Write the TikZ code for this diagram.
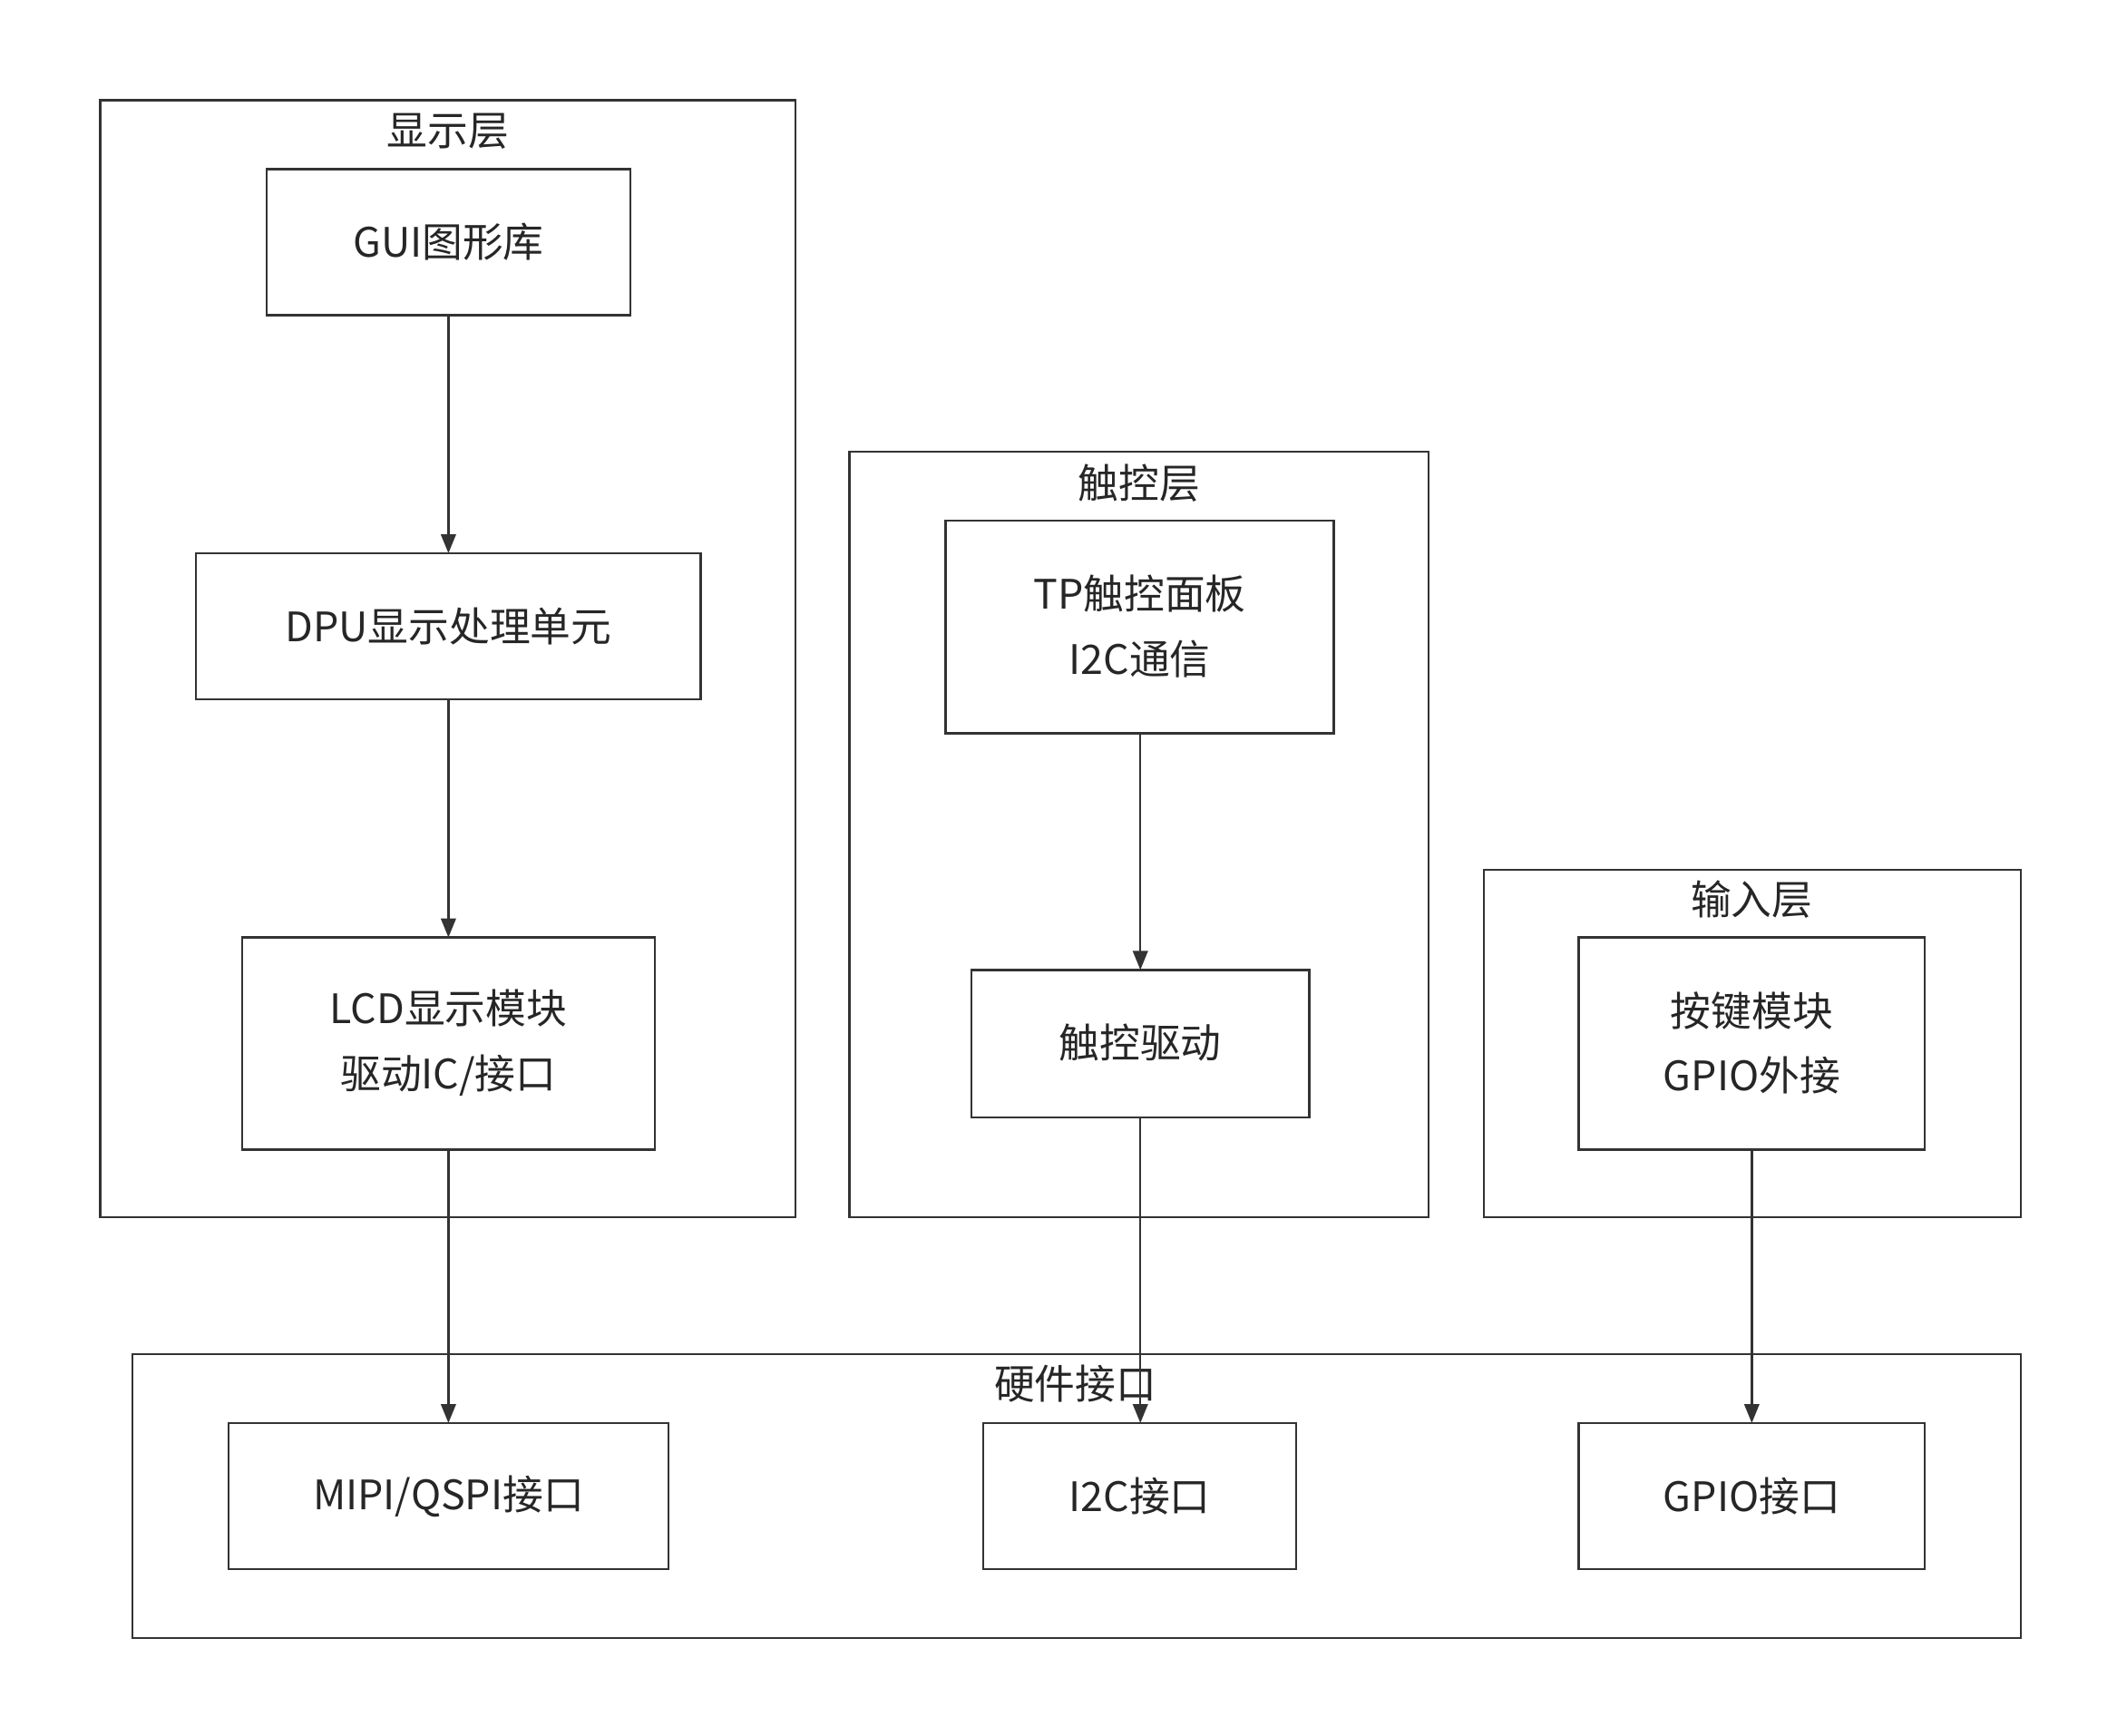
\documentclass[tikz,border=0pt]{standalone}
\usepackage{fontspec}
\setmainfont{Noto Sans CJK SC}
\usetikzlibrary{arrows.meta}
\begin{document}
\begin{tikzpicture}[x=1pt,y=-1pt,
 box/.style={draw=black!80,line width=1.6pt},
 lbl/.style={font=\fontsize{30}{48}\selectfont,align=center,text=black!85},
 arr/.style={draw=black!80,line width=1.6pt,-{Triangle[length=14pt,width=11pt]}}]
\useasboundingbox (0,0) rectangle (1565,1283);
\draw[box] (74,74) rectangle (588,900);
\node[lbl] (t1) at (331,97) {显示层};
\draw[box] (628,334) rectangle (1056,900);
\node[lbl] (t2) at (842,357) {触控层};
\draw[box] (1097,643) rectangle (1494,900);
\node[lbl] (t3) at (1295,665) {输入层};
\draw[box] (98,1001) rectangle (1494,1211);
\node[lbl] (t4) at (795,1023) {硬件接口};
\draw[box] (197,125) rectangle (466,233); \node[lbl] (gui) at (331.5,179) {GUI图形库};
\draw[box] (145,409) rectangle (518,517); \node[lbl] (dpu) at (331.5,463) {DPU显示处理单元};
\draw[box] (179,693) rectangle (484,850); \node[lbl] (lcd) at (331.5,771) {LCD显示模块\\驱动IC/接口};
\draw[box] (699,385) rectangle (986,542); \node[lbl] (tp) at (842.5,463) {TP触控面板\\I2C通信};
\draw[box] (718,717) rectangle (968,826); \node[lbl] (td) at (843,771) {触控驱动};
\draw[box] (1167,693) rectangle (1423,850); \node[lbl] (key) at (1295,771) {按键模块\\GPIO外接};
\draw[box] (169,1052) rectangle (494,1160); \node[lbl] (mipi) at (331.5,1106) {MIPI/QSPI接口};
\draw[box] (727,1052) rectangle (958,1160); \node[lbl] (i2c) at (842.5,1106) {I2C接口};
\draw[box] (1167,1052) rectangle (1423,1160); \node[lbl] (gpio) at (1295,1106) {GPIO接口};
\coordinate (a1) at (331.5,233); \coordinate (a2) at (331.5,409);
\coordinate (b1) at (331.5,517); \coordinate (b2) at (331.5,693);
\coordinate (c1) at (331.5,850); \coordinate (c2) at (331.5,1052);
\coordinate (d1) at (843,542); \coordinate (d2) at (843,717);
\coordinate (e1) at (843,826); \coordinate (e2) at (843,1052);
\coordinate (f1) at (1295,850); \coordinate (f2) at (1295,1052);
\draw[arr] (a1) -- (a2); \draw[arr] (b1) -- (b2); \draw[arr] (c1) -- (c2);
\draw[arr] (d1) -- (d2); \draw[arr] (e1) -- (e2); \draw[arr] (f1) -- (f2);
\end{tikzpicture}
\end{document}
